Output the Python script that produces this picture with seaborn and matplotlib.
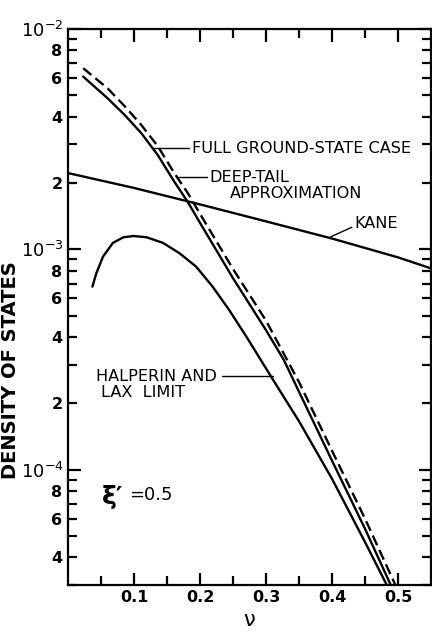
import numpy as np
import pandas as pd
import matplotlib
matplotlib.use("Agg")
import matplotlib.pyplot as plt
import matplotlib.ticker as mticker
import seaborn as sns

# ---- data ----
full_x = [0.023, 0.060, 0.086, 0.111, 0.136, 0.161, 0.181, 0.20, 0.25, 0.30, 0.327, 0.35, 0.40, 0.45, 0.489]
full_y = [6.08e-3, 4.85e-3, 4.07e-3, 3.37e-3, 2.68e-3, 2.03e-3, 1.65e-3, 1.32e-3, 7.4e-4, 4.3e-4, 3.15e-4, 2.26e-4, 1.1e-4, 5.4e-5, 3.0e-5]

deep_x = [0.023, 0.060, 0.086, 0.111, 0.136, 0.161, 0.181, 0.20, 0.25, 0.30, 0.35, 0.40, 0.45, 0.496]
deep_y = [6.64e-3, 5.38e-3, 4.46e-3, 3.67e-3, 2.94e-3, 2.22e-3, 1.81e-3, 1.45e-3, 8.15e-4, 4.75e-4, 2.5e-4, 1.22e-4, 6.0e-5, 3.0e-5]

kane_x = [0.0, 0.1, 0.2, 0.3, 0.4, 0.5, 0.55]
kane_y = [2.22e-3, 1.90e-3, 1.60e-3, 1.34e-3, 1.12e-3, 9.2e-4, 8.2e-4]

hl_x = [0.037, 0.043, 0.053, 0.068, 0.084, 0.099, 0.119, 0.144, 0.169, 0.194, 0.219, 0.244, 0.270,
        0.295, 0.31, 0.35, 0.40, 0.45, 0.483]
hl_y = [6.78e-4, 7.8e-4, 9.27e-4, 1.07e-3, 1.135e-3, 1.15e-3, 1.135e-3, 1.07e-3, 9.6e-4, 8.36e-4,
        6.78e-4, 5.32e-4, 4.03e-4, 3.05e-4, 2.58e-4, 1.66e-4, 9.1e-5, 4.7e-5, 3.0e-5]

x_ticks = [0.1, 0.2, 0.3, 0.4, 0.5]
x_tick_labels = ["0.1", "0.2", "0.3", "0.4", "0.5"]

sns.set_style("ticks")
plt.rcParams["font.family"] = ["DejaVu Sans"]
plt.rcParams["text.color"] = "black"
plt.rcParams["axes.labelcolor"] = "black"
plt.rcParams["xtick.color"] = "black"
plt.rcParams["ytick.color"] = "black"

fig = plt.figure(figsize=(4.32, 6.35), dpi=100)
ax = fig.add_axes([68 / 432, 1 - 585 / 635, 363 / 432, (585 - 29) / 635])

lw = 1.7
for xs, ys in [(full_x, full_y), (deep_x, deep_y), (kane_x, kane_y), (hl_x, hl_y)]:
    sns.lineplot(data=pd.DataFrame({"v": xs, "d": ys}), x="v", y="d", ax=ax,
                 color="black", lw=lw, sort=False, estimator=None)
ax.lines[1].set_linestyle((0, (4.5, 2.2)))

ax.set_yscale("log")
ax.set_xlim(0, 0.55)
ax.set_ylim(3e-5, 1e-2)

for s in ax.spines.values():
    s.set_linewidth(1.6)
    s.set_color("black")

ax.set_xticks(x_ticks)
ax.set_xticklabels(x_tick_labels)
ax.xaxis.set_minor_locator(mticker.FixedLocator([0.05, 0.15, 0.25, 0.35, 0.45]))
ax.yaxis.set_major_locator(mticker.FixedLocator([1e-4, 1e-3, 1e-2]))
ax.yaxis.set_major_formatter(mticker.FixedFormatter([r"$10^{-4}$", r"$10^{-3}$", r"$10^{-2}$"]))
ax.yaxis.set_minor_locator(mticker.LogLocator(base=10, subs=np.arange(2, 10)))


def minor_fmt(v, pos):
    m = v / 10 ** np.floor(np.log10(v) + 1e-9)
    m = int(round(m))
    return str(m) if m in (2, 4, 6, 8) else ""


ax.yaxis.set_minor_formatter(mticker.FuncFormatter(minor_fmt))

ax.tick_params(which="both", direction="in", top=True, right=True, width=1.6, color="black",
               labelcolor="black")
ax.tick_params(which="major", length=9, labelsize=11.5)
ax.tick_params(which="minor", length=6.5, labelsize=11.5)
ax.tick_params(axis="y", which="minor", pad=4)
ax.tick_params(axis="y", which="major", pad=3, labelsize=13)
for lab in ax.get_xticklabels() + ax.get_yticklabels(minor=True):
    lab.set_fontweight("bold")

ax.set_xlabel("ν", fontsize=15, labelpad=4, color="black")
ax.set_ylabel("DENSITY OF STATES", fontsize=14, fontweight="bold", color="black")
ax.yaxis.set_label_coords(-0.132, 0.387)

fs = 11.6
ax.text(0.1885, 2.88e-3, "FULL GROUND-STATE CASE", fontsize=fs, ha="left", va="center")
ax.plot([0.128, 0.184], [2.88e-3, 2.88e-3], color="black", lw=1.0)
ax.text(0.214, 2.11e-3, "DEEP-TAIL", fontsize=fs, ha="left", va="center")
ax.text(0.246, 1.79e-3, "APPROXIMATION", fontsize=fs, ha="left", va="center")
ax.plot([0.166, 0.210], [2.13e-3, 2.13e-3], color="black", lw=1.0)
ax.text(0.434, 1.31e-3, "KANE", fontsize=fs, ha="left", va="center")
ax.plot([0.398, 0.430], [1.14e-3, 1.26e-3], color="black", lw=1.0)
ax.text(0.042, 2.65e-4, "HALPERIN AND", fontsize=fs, ha="left", va="center")
ax.text(0.050, 2.24e-4, "LAX  LIMIT", fontsize=fs, ha="left", va="center")
ax.plot([0.234, 0.31], [2.65e-4, 2.65e-4], color="black", lw=1.0)
ax.text(0.051, 7.55e-5, "ξ′", fontsize=18, fontweight="bold", ha="left", va="center")
ax.text(0.092, 7.7e-5, "=0.5", fontsize=13, ha="left", va="center")

fig.savefig("out.png", dpi=100)
